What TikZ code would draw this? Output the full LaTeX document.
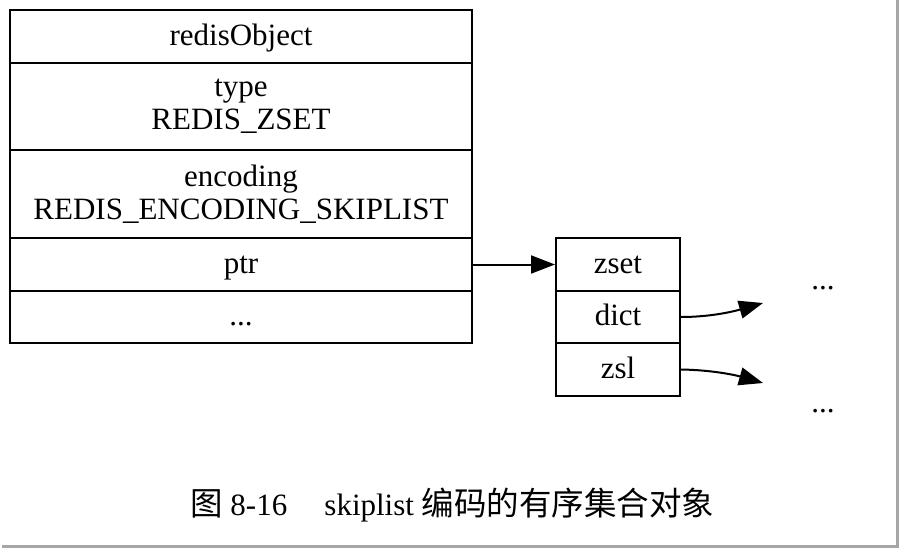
\documentclass[tikz,border=0pt]{standalone}
\usepackage{fontspec}
\setmainfont{Liberation Serif}
\newfontfamily\cjk{Noto Sans CJK SC}
\usetikzlibrary{arrows.meta}
\begin{document}
\begin{tikzpicture}[x=1pt,y=-1pt,
  cellbase/.style={draw, line width=2pt, rectangle, inner sep=0pt, align=center,
    font=\fontsize{31}{32}\selectfont},
  cell/.style={cellbase, text height=23pt, text depth=6pt},
  lcell/.style={cell, minimum width=462pt},
  lcell2/.style={cellbase, minimum width=462pt},
  mcell/.style={cell, minimum width=124pt},
  dots/.style={inner sep=0pt, font=\fontsize{31}{32}\selectfont, text height=23pt, text depth=6pt},
  arr/.style={line width=2pt, -{Triangle[length=24pt,width=18pt]}},
  frameline/.style={draw=gray!70, line width=3pt}
]
\useasboundingbox (0,0) rectangle (900,549);
\fill[white] (0,0) rectangle (900,549);
\draw[frameline] (2,546.5) -- (897.5,546.5) -- (897.5,0);

% left table
\node[lcell, minimum height=53pt] (obj) at (241,36.5) {redisObject};
\node[lcell2, minimum height=87pt] (type) at (241,106.5) {type\\[1pt]REDIS\_ZSET};
\node[lcell2, minimum height=88pt] (enc) at (241,194) {encoding\\[1pt]REDIS\_ENCODING\_SKIPLIST};
\node[lcell, minimum height=53pt] (ptr) at (241,264.5) {ptr};
\node[lcell, minimum height=52pt] (more) at (241,317) {...};

% middle table
\node[mcell, minimum height=53pt] (zset) at (618,264.5) {zset};
\node[mcell, minimum height=52pt] (dict) at (618,317) {dict};
\node[mcell, minimum height=53pt] (zsl) at (618,369.5) {zsl};

% right dots
\node[dots] (d1) at (823,281) {...};
\node[dots] (d2) at (823,404) {...};

\coordinate (e1) at (763,303);
\coordinate (e2) at (763,383);

\draw[arr] (ptr.east) -- (zset.west);
\draw[arr] (dict.east) .. controls (712,317) and (735,311) .. (e1);
\draw[arr] (zsl.east) .. controls (712,370) and (735,375) .. (e2);

% caption
\node[inner sep=0pt, anchor=west, font=\fontsize{31}{33}\selectfont] (cap) at (190,505)
  {{\cjk\fontsize{32.5}{34}\selectfont 图} 8-16\hspace{1.2em}skiplist {\cjk\fontsize{32.5}{34}\selectfont 编码的有序集合对象}};
\end{tikzpicture}
\end{document}
